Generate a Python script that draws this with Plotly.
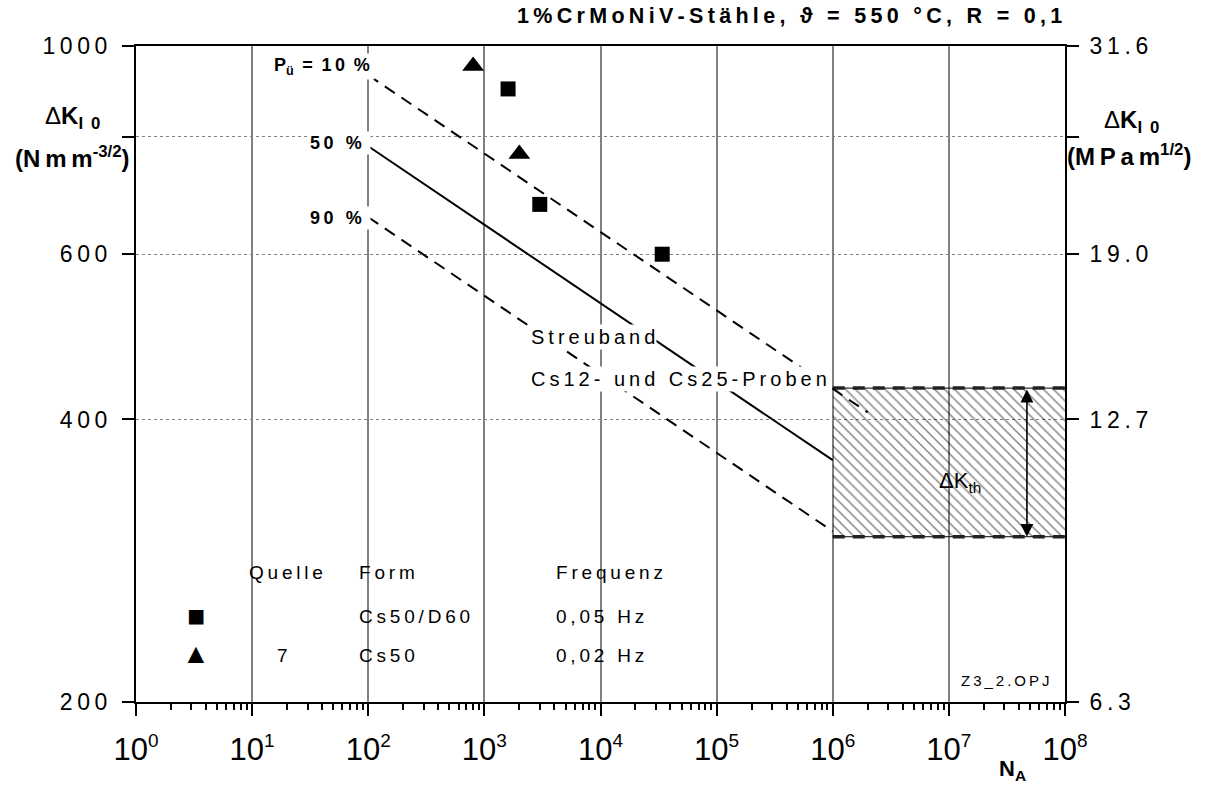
import math
import plotly.graph_objects as go

# ---------------- data ----------------
band10_N = [1e2, 2e6]
band10_dK = [931, 407]
band50_N = [1e2, 1e6]
band50_dK = [782, 362]
band90_N = [1e2, 1e6]
band90_dK = [657, 304]

th_N = [1e6, 1e8]
th_low = 300
th_high = 432
arrow_N = 4.7e7

square_N = [1600, 3000, 34000]
square_dK = [900, 678, 600]
triangle_N = [800, 2000]
triangle_dK = [952, 767]

y_tickvals = [200, 400, 600, 800, 1000]
y_ticktext = ["200", "400", "600", "", "1000"]
y2_ticktext = ["6.3", "12.7", "19.0", "", "31.6"]
x_exponents = list(range(0, 9))

# ---------------- helpers ----------------
FONT = "Arial, Liberation Sans, sans-serif"
TS = "\u2009"  # thin space used as letter spacing


def ls(s):
    return TS.join(s)


L, R, T, B = 136, 1065, 46, 702


def px(x):
    return (x - L) / (R - L)


def py(y):
    return (B - y) / (B - T)


fig = go.Figure()

# hatched threshold band
fig.add_trace(go.Scatter(
    x=[th_N[0], th_N[1], th_N[1], th_N[0], th_N[0]],
    y=[th_low, th_low, th_high, th_high, th_low],
    mode="lines", line=dict(width=0, color="rgba(0,0,0,0)"),
    fill="toself", fillcolor="rgba(255,255,255,0)",
    fillpattern=dict(shape="\\", size=7, solidity=0.2, fgcolor="black",
                     bgcolor="rgba(0,0,0,0)", fillmode="overlay"),
    hoverinfo="skip"))
for v in (th_low, th_high):
    fig.add_trace(go.Scatter(x=th_N, y=[v, v], mode="lines",
                             line=dict(color="black", width=1), hoverinfo="skip"))
    fig.add_trace(go.Scatter(x=th_N, y=[v, v], mode="lines",
                             line=dict(color="#222", width=3.5, dash="12px,8px"),
                             hoverinfo="skip"))

# scatter band
fig.add_trace(go.Scatter(x=band10_N, y=band10_dK, mode="lines",
                         line=dict(color="black", width=2, dash="12px,8px")))
fig.add_trace(go.Scatter(x=band50_N, y=band50_dK, mode="lines",
                         line=dict(color="black", width=2)))
fig.add_trace(go.Scatter(x=band90_N, y=band90_dK, mode="lines",
                         line=dict(color="black", width=2, dash="12px,8px")))

# data points
fig.add_trace(go.Scatter(x=square_N, y=square_dK, mode="markers",
                         marker=dict(symbol="square", size=15, color="black")))
fig.add_trace(go.Scatter(x=triangle_N, y=triangle_dK, mode="markers",
                         marker=dict(symbol="triangle-up", size=19, color="black")))

# dummy trace for right axis
fig.add_trace(go.Scatter(x=[10], y=[500], yaxis="y2", mode="markers",
                         marker=dict(opacity=0), hoverinfo="skip"))

minor_vals = [k * 10 ** d for d in range(0, 8) for k in range(2, 10)]
x_tickvals = [10 ** e for e in x_exponents]
x_ticktext = ["10<sup><span style='font-size:19px'>%d</span></sup>" % e
              for e in x_exponents]

yr = [math.log10(200), math.log10(1000)]

fig.update_layout(
    width=1207, height=787,
    margin=dict(l=L, r=1207 - R, t=T, b=787 - B),
    paper_bgcolor="white", plot_bgcolor="white",
    showlegend=False,
    font=dict(family=FONT, color="black"),
    xaxis=dict(type="log", range=[0, 8], showline=True, linecolor="black",
               linewidth=2, mirror=True, ticks="outside", ticklen=12,
               tickwidth=2, tickcolor="black", tickvals=x_tickvals,
               ticktext=x_ticktext, tickfont=dict(size=31, family=FONT),
               showgrid=True, gridcolor="#808080", gridwidth=1.5,
               zeroline=False, ticklabelstandoff=7,
               minor=dict(tickvals=minor_vals, ticks="outside", ticklen=6,
                          tickwidth=1.5, tickcolor="black", showgrid=False)),
    yaxis=dict(type="log", range=yr, showline=True, linecolor="black",
               linewidth=2, mirror=True, ticks="outside", ticklen=12,
               tickwidth=2, tickcolor="black", tickvals=y_tickvals,
               ticktext=[ls(t) for t in y_ticktext],
               tickfont=dict(size=23, family=FONT),
               showgrid=True, gridcolor="#808080", griddash="dot", gridwidth=1,
               zeroline=False, ticklabelstandoff=10),
    yaxis2=dict(type="log", range=yr, overlaying="y", side="right",
                showline=True, linecolor="black", linewidth=2,
                ticks="outside", ticklen=12, tickwidth=2, tickcolor="black",
                tickvals=y_tickvals, ticktext=[ls(t) for t in y2_ticktext],
                tickfont=dict(size=23, family=FONT), showgrid=False,
                zeroline=False, ticklabelstandoff=6),
)

# white block behind the legend table (interrupts grid lines)
fig.add_shape(type="rect", xref="paper", yref="paper",
              x0=px(180), x1=px(680), y0=py(679), y1=py(556),
              fillcolor="white", line=dict(width=0), layer="between")

ann = []


def A(text, x, y, size, xanchor="center", yanchor="middle", bg=None, **kw):
    d = dict(text=text, x=x, y=y, xref="paper", yref="paper",
             xanchor=xanchor, yanchor=yanchor, showarrow=False,
             font=dict(size=size, family=FONT, color="black"))
    if bg:
        d["bgcolor"] = bg
        d["borderpad"] = 1
    d.update(kw)
    ann.append(d)


# title
A("<b>" + ls("1%CrMoNiV-Stähle, ϑ = 550 °C, R = 0,1") + "</b>",
  px(1064), py(16), 21.5, xanchor="right")

# y axis titles
A("Δ<b>K</b><sub><b>I" + TS + " 0</b></sub>", px(72), py(118), 24)
A("<b>(" + ls("Nmm") + "<sup>-3/2</sup>)</b>", px(72), py(157), 24)
A("Δ<b>K</b><sub><b>I" + TS + " 0</b></sub>", px(1131), py(121), 24)
A("<b>(" + ls("MPam") + "<sup>1/2</sup>)</b>", px(1129), py(155), 24)

# x axis title
A("<b>N<sub>A</sub></b>", px(1012), py(770), 22)

# band labels
A("\u2003<b>" + "P<sub>ü</sub>" + TS + " =" + TS + " 1" + TS + "0" + TS + " %" + "</b>" + TS,
  px(375), py(67), 18, xanchor="right", bg="white")
A("<b>" + ls("50 %") + "</b>" + TS + TS, px(371), py(143), 18, xanchor="right", bg="white")
A("<b>" + ls("90 %") + "</b>" + TS + TS, px(371), py(218), 18, xanchor="right", bg="white")

A(ls("Streuband"), px(529), py(337), 20, xanchor="left", bg="white")
A(ls("Cs12- und Cs25-Proben"), px(529), py(379), 20, xanchor="left", bg="white")

# threshold label
A("ΔK<sub>th</sub>", px(960), py(482), 22)

# file tag
A(ls("Z3_2.OPJ"), px(959), py(680), 15, xanchor="left")

# legend table
A(ls("Quelle"), px(247), py(572), 19, xanchor="left")
A(ls("Form"), px(357), py(572), 19, xanchor="left")
A(ls("Frequenz"), px(554), py(572), 19, xanchor="left")
A("■", px(196), py(615), 30)
A(ls("Cs50/D60"), px(357), py(616), 19, xanchor="left")
A(ls("0,05 Hz"), px(554), py(616), 19, xanchor="left")
A("▲", px(196), py(653), 28)
A("7", px(282), py(655), 19)
A(ls("Cs50"), px(357), py(655), 19, xanchor="left")
A(ls("0,02 Hz"), px(554), py(655), 19, xanchor="left")

# double arrow for threshold band
ann.append(dict(x=math.log10(arrow_N), y=math.log10(th_low),
                ax=math.log10(arrow_N), ay=math.log10(th_high),
                xref="x", yref="y", axref="x", ayref="y", text="",
                showarrow=True, arrowside="end+start", arrowhead=2,
                arrowsize=1.6, arrowwidth=1.6, arrowcolor="black",
                standoff=0, startstandoff=0))

fig.update_layout(annotations=ann)

fig.write_html("out.html")
